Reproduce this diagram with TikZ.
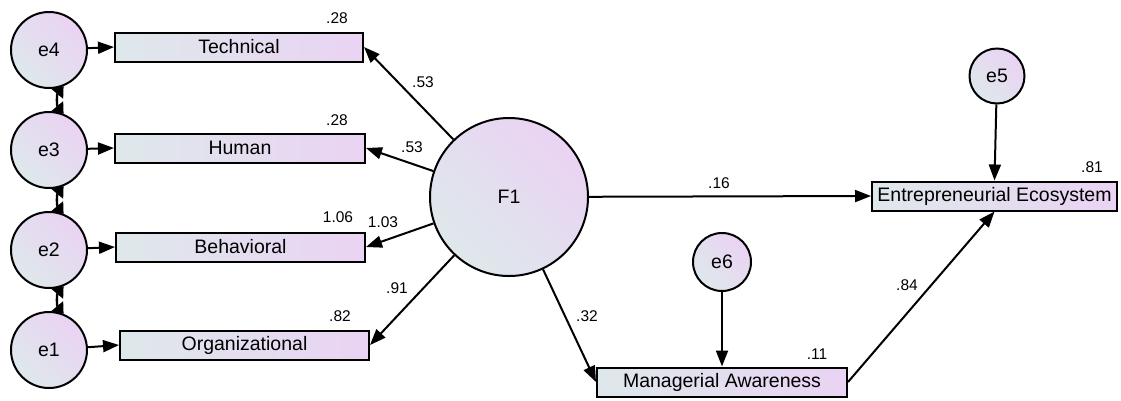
\documentclass[tikz,border=0pt]{standalone}
\usepackage{fontspec}
\setmainfont{Liberation Sans}
\usetikzlibrary{arrows.meta,shapes.geometric}
\definecolor{shA}{HTML}{DEE8EB}
\definecolor{shB}{HTML}{EAD3F3}
\tikzset{
  x=1pt,y=-1pt,
  base/.style={draw=black,line width=2pt,inner sep=0pt,left color=shA,right color=shB},
  obs/.style={base,rectangle,minimum height=29pt,font=\fontsize{19.5}{19.5}\selectfont},
  lat/.style={base,circle,shading angle=135,font=\fontsize{19.5}{19.5}\selectfont},
  path/.style={line width=2pt,-{Triangle[length=16pt,width=12pt]}},
  cov/.style={line width=2.4pt,{Triangle[length=10pt,width=15pt]}-{Triangle[length=10pt,width=15pt]}},
  num/.style={font=\fontsize{15.5}{15.5}\selectfont,inner sep=0pt}
}
\begin{document}
\begin{tikzpicture}
\useasboundingbox (0,0) rectangle (1121,400);
% error circles
\node[lat,minimum size=76pt] (e4) at (49,50) {e4};
\node[lat,minimum size=76pt] (e3) at (49,150) {e3};
\node[lat,minimum size=76pt] (e2) at (49,250) {e2};
\node[lat,minimum size=76pt] (e1) at (49,350) {e1};
% observed indicators
\node[obs,minimum width=248pt] (tech) at (239,47) {Technical};
\node[obs,minimum width=250pt] (hum) at (240,148) {Human};
\node[obs,minimum width=249pt] (beh) at (240.5,247) {Behavioral};
\node[obs,minimum width=249pt] (org) at (244.5,345) {Organizational};
% latent factor
\node[lat,minimum size=158pt] (F1) at (509,197) {F1};
% outcomes
\node[obs,minimum width=245pt] (EE) at (994.5,196) {Entrepreneurial Ecosystem};
\node[obs,minimum width=250pt] (MA) at (722,382) {Managerial Awareness};
\node[lat,minimum size=55pt] (e5) at (997,76) {e5};
\node[lat,minimum size=58pt] (e6) at (722,262) {e6};
% error paths
\draw[path] (e4) -- (tech.west);
\draw[path] (e3) -- (hum.west);
\draw[path] (e2) -- (beh.west);
\draw[path] (e1) -- (org.west);
\draw[path] (e5) -- (EE.north);
\draw[path] (e6) -- (MA.north);
% covariances
\draw[cov] (e4.-68) to[bend right=40] (e3.68);
\draw[cov] (e3.-68) to[bend right=40] (e2.68);
\draw[cov] (e2.-68) to[bend right=40] (e1.68);
% factor loadings
\draw[path] (F1) -- (tech.east);
\draw[path] (F1) -- (hum.east);
\draw[path] (F1) -- (beh.east);
\draw[path] (F1) -- (org.east);
\draw[path] (F1) -- (EE.west);
\draw[path] (F1) -- (MA.west);
\draw[path] (MA.east) -- (EE.south);
% coefficient labels
\node[num] (l1) at (423,82) {.53};
\node[num] (l2) at (412,147) {.53};
\node[num] (l3) at (383,222) {1.03};
\node[num] (l4) at (397,288) {.91};
\node[num] (l5) at (719,183) {.16};
\node[num] (l6) at (587,316) {.32};
\node[num] (l7) at (907,285) {.84};
% squared multiple correlations
\node[num] (r1) at (337,18) {.28};
\node[num] (r2) at (337,120) {.28};
\node[num] (r3) at (338,217) {1.06};
\node[num] (r4) at (340,316) {.82};
\node[num] (r5) at (1092,167) {.81};
\node[num] (r6) at (817,354) {.11};
\end{tikzpicture}
\end{document}
